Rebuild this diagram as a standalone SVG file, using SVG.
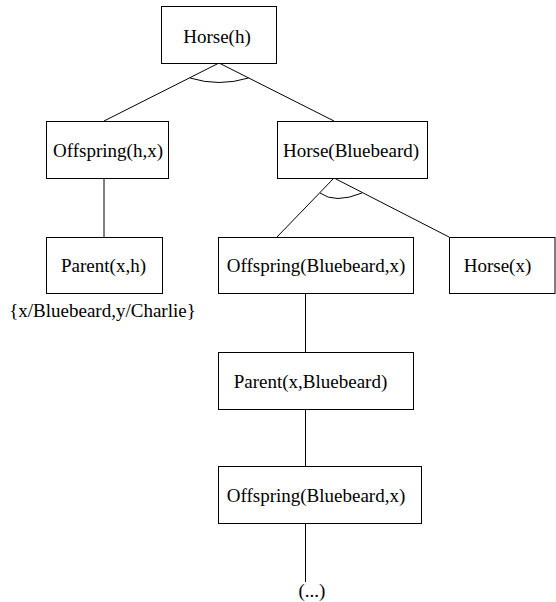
<svg xmlns="http://www.w3.org/2000/svg" width="556" height="602" viewBox="0 0 556 602">
<style>
.box{fill:#fff;stroke:#000;stroke-width:1}
.ln{fill:none;stroke:#000;stroke-width:1}
text{font-family:"Liberation Serif","Times New Roman",serif;font-size:19px;fill:#000;text-anchor:middle}
</style>
<rect width="556" height="602" fill="#fff"/>
<g id="connectors">
<path class="ln" d="M219,63 L104,121"/>
<path class="ln" d="M219,63 L334,121"/>
<path class="ln" d="M190,78 Q219,87 248.5,78"/>
<path class="ln" d="M104,178 L104,237"/>
<path class="ln" d="M334,178 L277,237"/>
<path class="ln" d="M334,178 L449,237"/>
<path class="ln" d="M320,193 Q335,204 362,193"/>
<path class="ln" d="M305.5,293 L305.5,352"/>
<path class="ln" d="M305.5,409 L305.5,466"/>
<path class="ln" d="M305.5,523 L305.5,582"/>
</g>
<g id="horse_h">
<rect class="box" x="161.5" y="6.5" width="115" height="57"/>
<text x="217" y="43">Horse(h)</text>
</g>
<g id="offspring_hx">
<rect class="box" x="46.5" y="121.5" width="122" height="57"/>
<text x="108" y="157">Offspring(h,x)</text>
</g>
<g id="horse_bluebeard">
<rect class="box" x="277.5" y="121.5" width="150" height="57"/>
<text x="351" y="157">Horse(Bluebeard)</text>
</g>
<g id="parent_xh">
<rect class="box" x="46.5" y="237.5" width="116" height="56"/>
<text x="103.5" y="272">Parent(x,h)</text>
</g>
<g id="substitution">
<text x="102.5" y="317">{x/Bluebeard,y/Charlie}</text>
</g>
<g id="offspring_bluebeard_1">
<rect class="box" x="218.5" y="237.5" width="195" height="56"/>
<text x="316" y="272">Offspring(Bluebeard,x)</text>
</g>
<g id="horse_x">
<rect class="box" x="449.5" y="237.5" width="105.5" height="56"/>
<text x="497.5" y="272">Horse(x)</text>
</g>
<g id="parent_x_bluebeard">
<rect class="box" x="218.5" y="352.5" width="195" height="57"/>
<text x="310.5" y="388">Parent(x,Bluebeard)</text>
</g>
<g id="offspring_bluebeard_2">
<rect class="box" x="218.5" y="466.5" width="203" height="57"/>
<text x="316" y="502">Offspring(Bluebeard,x)</text>
</g>
<g id="ellipsis">
<text x="312" y="597">(...)</text>
</g>
</svg>
